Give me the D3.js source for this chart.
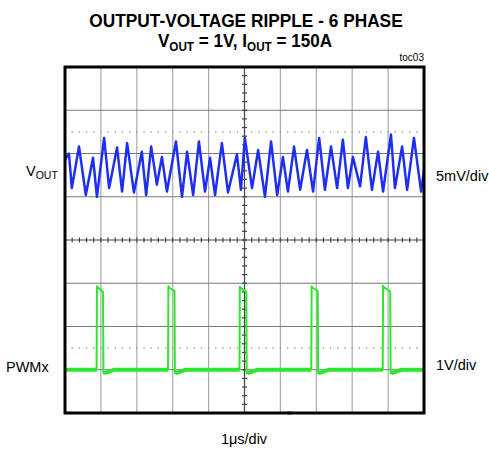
<!DOCTYPE html>
<html>
<head>
<meta charset="utf-8">
<title>Output-Voltage Ripple - 6 Phase</title>
<script src="https://d3js.org/d3.v7.min.js"></script>
<style>
    body { margin: 0; background: #fff; }
    text { font-family: "Liberation Sans", Arial, sans-serif; fill: #000; }
    .title { font-weight: bold; font-size: 19px; }
    .label { font-size: 14.5px; }
    .grid-h { stroke: #777; stroke-width: 1.2px; }
    .grid-v { stroke: #aaa; stroke-width: 1.2px; }
    .center { stroke: #444; stroke-width: 1.2px; }
    .dot { fill: #999; }
    .frame { fill: none; stroke: #000; stroke-width: 3px; }
    .vout { fill: none; stroke: #1f2ff2; stroke-width: 2.5px; stroke-linejoin: round; }
    .pwm { fill: none; stroke: #2ce82c; stroke-width: 2px; stroke-linejoin: round; }
    .pwm-base { fill: none; stroke: #2ce82c; stroke-width: 4px; }
</style>
</head>
<body>
<svg width="489" height="450"></svg>
<script>
    // screen: 10 time divisions (1us/div), 8 vertical divisions
    var timeDivs = 10, vertDivs = 8;

    // VOUT ripple, alternating trough / peak samples (us, mV), 5mV/div
    var rippleTime = [0.00, 0.11, 0.19, 0.39, 0.58, 0.78, 0.89, 1.09, 1.23, 1.45,
                      1.59, 1.73, 1.92, 2.14, 2.26, 2.40, 2.56, 2.70, 2.84, 3.09,
                      3.26, 3.40, 3.57, 3.73, 3.90, 4.04, 4.18, 4.37, 4.54, 4.79,
                      4.90, 5.01, 5.21, 5.38, 5.57, 5.74, 5.91, 6.07, 6.21, 6.38,
                      6.55, 6.74, 6.91, 7.08, 7.24, 7.41, 7.58, 7.74, 7.88, 8.02,
                      8.22, 8.38, 8.55, 8.72, 8.86, 9.08, 9.19, 9.39, 9.53, 9.72,
                      9.92, 10.00];
    var rippleMv = [4.3, 5.0, 1.0, 5.8, 0.2, 4.5, 0.0, 6.8, 1.0, 5.7,
                    0.6, 6.2, 0.5, 5.2, 0.2, 5.8, 1.4, 4.6, 0.6, 6.4,
                    0.0, 5.2, 0.2, 6.4, 0.6, 4.5, 0.2, 6.2, 0.5, 4.9,
                    0.8, 6.8, 1.0, 5.4, 0.0, 6.4, 0.2, 4.6, 0.6, 5.8,
                    0.8, 5.4, 0.6, 6.8, 0.8, 5.8, 1.0, 6.6, 1.0, 4.6,
                    1.2, 6.9, 0.8, 5.2, 0.6, 7.2, 1.0, 5.8, 0.8, 6.8,
                    0.6, 3.1];

    // PWMx pulses (us) and levels (V), 1V/div
    var pulseRise = [0.89, 2.88, 4.87, 6.87, 8.86];
    var pulseFall = [1.07, 3.06, 5.06, 7.05, 9.07];
    var pulseTopStart = [1.93, 1.93, 1.92, 1.93, 1.94];
    var pulseTopEnd = [1.80, 1.82, 1.80, 1.82, 1.81];
    var pwmLow = 0.0, pwmUndershoot = -0.08;

    var svg = d3.select("svg");

    var x = d3.scaleLinear().domain([0, timeDivs]).range([65, 424]);
    var y = d3.scaleLinear().domain([0, vertDivs]).range([413, 67]);
    // channel scales: VOUT zero on division 5, PWM zero on division 1
    var yVout = d3.scaleLinear().domain([-25, 15]).range([413, 67]);
    var yPwm = d3.scaleLinear().domain([-1, 7]).range([413, 67]);

    var grid = svg.append("g");

    grid.selectAll(".grid-v")
        .data(d3.range(1, timeDivs).filter(function (d) { return d !== 5; }))
        .enter().append("line")
        .attr("class", "grid-v")
        .attr("x1", function (d) { return x(d); })
        .attr("x2", function (d) { return x(d); })
        .attr("y1", y(0)).attr("y2", y(vertDivs));

    grid.selectAll(".grid-h")
        .data(d3.range(1, vertDivs).filter(function (d) { return d !== 4; }))
        .enter().append("line")
        .attr("class", "grid-h")
        .attr("x1", x(0)).attr("x2", x(timeDivs))
        .attr("y1", function (d) { return y(d); })
        .attr("y2", function (d) { return y(d); });

    // dotted reference levels
    [6.5, 1.5].forEach(function (lvl) {
        grid.selectAll(null)
            .data(d3.range(0.2, timeDivs, 0.2))
            .enter().append("rect")
            .attr("class", "dot")
            .attr("x", function (d) { return x(d) - 0.7; })
            .attr("y", y(lvl) - 0.7)
            .attr("width", 1.4).attr("height", 1.4);
    });

    // center cross with minor ticks
    grid.append("line").attr("class", "center")
        .attr("x1", x(0)).attr("x2", x(timeDivs))
        .attr("y1", y(4)).attr("y2", y(4));
    grid.append("line").attr("class", "center")
        .attr("x1", x(5)).attr("x2", x(5))
        .attr("y1", y(0)).attr("y2", y(vertDivs));

    grid.selectAll(".tick-x")
        .data(d3.range(0.2, timeDivs, 0.2))
        .enter().append("line")
        .attr("class", "center")
        .attr("x1", function (d) { return x(d); })
        .attr("x2", function (d) { return x(d); })
        .attr("y1", y(4) - 2.5).attr("y2", y(4) + 2.5);

    grid.selectAll(".tick-y")
        .data(d3.range(0.2, vertDivs, 0.2))
        .enter().append("line")
        .attr("class", "center")
        .attr("x1", x(5) - 2.5).attr("x2", x(5) + 2.5)
        .attr("y1", function (d) { return y(d); })
        .attr("y2", function (d) { return y(d); });

    // VOUT trace
    var voutLine = d3.line()
        .x(function (d, i) { return x(rippleTime[i]); })
        .y(function (d) { return yVout(d); });

    svg.append("path")
        .attr("class", "vout")
        .attr("d", voutLine(rippleMv));

    // PWMx trace built from the pulse edges
    var pwmPts = [[0, pwmLow]];
    pulseRise.forEach(function (r, i) {
        var f = pulseFall[i];
        pwmPts.push([r - 0.01, pwmLow]);
        pwmPts.push([r, pulseTopStart[i]]);
        pwmPts.push([r + 0.04, pulseTopStart[i] - 0.04]);
        pwmPts.push([f - 0.01, pulseTopEnd[i]]);
        pwmPts.push([f, pwmUndershoot]);
        pwmPts.push([f + 0.3, pwmLow]);
    });
    pwmPts.push([timeDivs, pwmLow]);

    var pwmLine = d3.line()
        .x(function (d) { return x(d[0]); })
        .y(function (d) { return yPwm(d[1]); });

    // low level segments are drawn wider for the noisy baseline
    var lowStarts = [0].concat(pulseFall);
    var lowEnds = pulseRise.concat([timeDivs]);
    svg.selectAll(".pwm-base")
        .data(lowStarts)
        .enter().append("path")
        .attr("class", "pwm-base")
        .attr("d", function (d, i) {
            var a = i === 0 ? 0 : d + 0.02;
            var pts = i === 0 ? [[a, pwmLow], [lowEnds[i] - 0.01, pwmLow]]
                : [[a, pwmUndershoot], [d + 0.3, pwmLow], [lowEnds[i] - 0.01, pwmLow]];
            return pwmLine(pts);
        });

    svg.append("path")
        .attr("class", "pwm")
        .attr("d", pwmLine(pwmPts));

    // trigger marker on the bottom edge
    svg.append("line")
        .attr("x1", x(6.25) - 2).attr("x2", x(6.25) + 2)
        .attr("y1", y(0)).attr("y2", y(0))
        .attr("stroke", "#1f2ff2").attr("stroke-width", 3);

    svg.append("rect")
        .attr("class", "frame")
        .attr("x", x(0)).attr("y", y(vertDivs))
        .attr("width", x(timeDivs) - x(0))
        .attr("height", y(0) - y(vertDivs));

    // titles, narrowed a little
    svg.append("text").attr("class", "title")
        .attr("transform", "translate(246,27) scale(0.91,1)")
        .attr("text-anchor", "middle")
        .text("OUTPUT-VOLTAGE RIPPLE - 6 PHASE");

    var sub = svg.append("text").attr("class", "title")
        .attr("transform", "translate(245,47) scale(0.9,1)")
        .attr("text-anchor", "middle");
    sub.append("tspan").text("V");
    sub.append("tspan").attr("font-size", 13).attr("dy", 4).text("OUT");
    sub.append("tspan").attr("dy", -4).text(" = 1V, I");
    sub.append("tspan").attr("font-size", 13).attr("dy", 4).text("OUT");
    sub.append("tspan").attr("dy", -4).text(" = 150A");

    svg.append("text")
        .attr("x", 424).attr("y", 61)
        .attr("text-anchor", "end")
        .attr("font-size", 10)
        .text("toc03");

    // channel labels
    var vl = svg.append("text").attr("class", "label")
        .attr("x", 26).attr("y", 176);
    vl.append("tspan").text("V");
    vl.append("tspan").attr("font-size", 10.5).attr("dy", 3).text("OUT");

    svg.append("text").attr("class", "label")
        .attr("x", 6).attr("y", 372).text("PWMx");

    svg.append("text").attr("class", "label")
        .attr("x", 436).attr("y", 181).text("5mV/div");

    svg.append("text").attr("class", "label")
        .attr("x", 436).attr("y", 370).text("1V/div");

    svg.append("text").attr("class", "label")
        .attr("x", 244).attr("y", 444)
        .attr("text-anchor", "middle")
        .text("1μs/div");
</script>
</body>
</html>
